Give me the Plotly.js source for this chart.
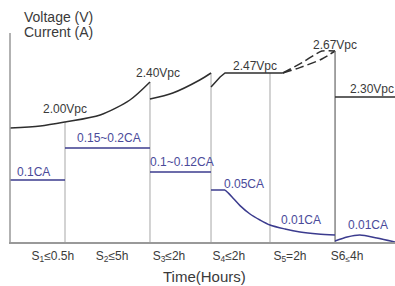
<!DOCTYPE html>
<html>
<head>
<meta charset="utf-8">
<script src="https://cdn.plot.ly/plotly-3.0.1.min.js"></script>
<style>html,body{margin:0;padding:0;background:#fff;}#chart{width:395px;height:286px;}</style>
</head>
<body>
<div id="chart"></div>
<script>
// ---- data (arbitrary time units on x, relative level on y) ----
const stageBounds = [1, 2.545, 3.655, 4.727];
const stageLabels = ["S<sub>1</sub>≤0.5h", "S<sub>2</sub>≤5h", "S<sub>3</sub>≤2h", "S<sub>4</sub>≤2h", "S<sub>5</sub>=2h", "S6<sub>≤</sub>4h"];

// voltage curves
const vS12x = [0, 0.55, 1, 1.64, 2.18, 2.545];
const vS12y = [5.7, 5.8, 6.0, 6.35, 7.1, 8.0];
const vS3x = [2.545, 2.96, 3.45, 3.655];
const vS3y = [7.15, 7.45, 8.1, 8.45];
const vS4x = [3.655, 3.73, 3.82, 3.91, 4.96];
const vS4y = [7.75, 7.98, 8.25, 8.45, 8.45];
const vUpX = [4.96, 5.31, 5.545, 5.67, 5.91];
const vUpY = [8.45, 8.97, 9.37, 9.55, 9.55];
const vLoX = [4.96, 5.27, 5.67, 5.91];
const vLoY = [8.45, 8.72, 9.15, 9.55];
const vS6dropX = [5.91, 5.91];
const vS6dropY = [9.55, 0];
const vFloatX = [5.91, 7];
const vFloatY = [7.25, 7.25];
const gridTop = [6.0, 8.0, 8.45, 8.45];

// current curves
const iX = [0, 1, null, 1, 2.545, null, 2.545, 3.655, null, 3.655, 3.91];
const iY = [3.1, 3.1, null, 4.7, 4.7, null, 3.5, 3.5, null, 2.6, 2.6];
const iDecayX = [3.909, 3.98, 4.07, 4.182, 4.364, 4.545, 4.727, 5.0, 5.273, 5.6, 5.909];
const iDecayY = [2.6, 2.42, 2.15, 1.82, 1.4, 1.1, 0.85, 0.65, 0.5, 0.4, 0.35];
const iS6X = [5.91, 6.13, 6.36, 6.67, 7];
const iS6Y = [0.05, 0.25, 0.35, 0.2, 0];

// text labels
const vLabels = ["2.00Vpc", "2.40Vpc", "2.47Vpc", "2.67Vpc", "2.30Vpc"];
const iLabels = ["0.1CA", "0.15~0.2CA", "0.1~0.12CA", "0.05CA", "0.01CA", "0.01CA"];
const xTitle = "Time(Hours)";

// ---- layout positions ----
const tickPos = [0.78, 1.855, 2.89, 3.98, 5.09, 6.13];
const vLabelPos = [[1.0, 6.65], [2.69, 8.45], [4.455, 8.8], [5.91, 9.85], [6.58, 7.65]];
const iLabelPos = [[0.42, 3.5], [1.8, 5.2], [3.127, 4.0], [4.255, 2.9], [5.29, 1.1], [6.51, 0.85]];

const FONT = "Arial, 'Liberation Sans', sans-serif";
const VCOL = "#2e2e2e";
const ICOL = "#3b3b8e";
const GCOL = "#c4c4c4";
const TCOL = "#3a3a3a";

function line(x, y, color, width, dash, shape) {
  return {x: x, y: y, type: "scatter", mode: "lines", hoverinfo: "skip",
    line: {color: color, width: width, dash: dash || "solid", shape: shape || "linear", smoothing: 0.8},
    connectgaps: false};
}

const traces = [];
stageBounds.forEach((b, k) => traces.push(line([b, b], [0, gridTop[k]], GCOL, 1.5)));
traces.push(line(vS12x, vS12y, VCOL, 1.5, null, "spline"));
traces.push(line(vS3x, vS3y, VCOL, 1.5, null, "spline"));
traces.push(line(vS4x, vS4y, VCOL, 1.5));
traces.push(line(vUpX, vUpY, VCOL, 1.5, "9px,4px", "spline"));
traces.push(line(vLoX, vLoY, VCOL, 1.5, "9px,4px", "spline"));
traces.push(line(vS6dropX, vS6dropY, "#666", 1.2));
traces.push(line(vFloatX, vFloatY, VCOL, 1.5));
traces.push(line(iX, iY, ICOL, 1.5));
traces.push(line(iDecayX, iDecayY, ICOL, 1.5, null, "spline"));
traces.push(line(iS6X, iS6Y, ICOL, 1.5, null, "spline"));

const annotations = [];
vLabels.forEach((t, k) => annotations.push({x: vLabelPos[k][0], y: vLabelPos[k][1], text: t, showarrow: false,
  xanchor: "center", yanchor: "middle", font: {family: FONT, size: 12, color: TCOL}}));
iLabels.forEach((t, k) => annotations.push({x: iLabelPos[k][0], y: iLabelPos[k][1], text: t, showarrow: false,
  xanchor: "center", yanchor: "middle", font: {family: FONT, size: 12, color: "#4a4a9a"}}));
annotations.push({x: 0.218, y: 11.25, text: "Voltage (V)", showarrow: false, xanchor: "left", yanchor: "middle",
  font: {family: FONT, size: 14, color: TCOL}});
annotations.push({x: 0.218, y: 10.5, text: "Current (A)", showarrow: false, xanchor: "left", yanchor: "middle",
  font: {family: FONT, size: 14, color: TCOL}});
annotations.push({x: 3.545, xref: "x", y: -0.142, yref: "paper", text: xTitle, showarrow: false, borderpad: 0,
  xanchor: "center", yanchor: "middle", font: {family: FONT, size: 15, color: TCOL}});

const layout = {
  width: 395, height: 286,
  margin: {l: 9, r: 0, t: 0, b: 44, pad: 0},
  paper_bgcolor: "#fff", plot_bgcolor: "#fff",
  showlegend: false,
  xaxis: {range: [-1/55, 7], showgrid: false, zeroline: false, showline: true, linecolor: "#999", linewidth: 1.5,
    tickvals: tickPos, ticktext: stageLabels, ticks: "", ticklabelstandoff: 2,
    tickfont: {family: FONT, size: 12, color: TCOL}, fixedrange: true},
  yaxis: {range: [0, 12.1], visible: false, fixedrange: true},
  shapes: [{type: "line", xref: "x", yref: "y", x0: 0, x1: 0, y0: 0, y1: 10.45, line: {color: "#999", width: 1.5}}],
  annotations: annotations
};

Plotly.newPlot("chart", traces, layout, {displayModeBar: false, staticPlot: true});
</script>
</body>
</html>
